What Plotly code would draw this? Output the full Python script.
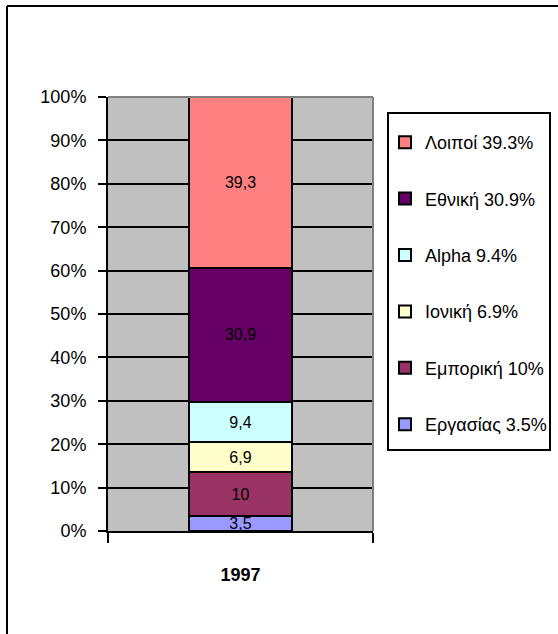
import plotly.graph_objects as go

categories = ["1997"]
series_names = ["Εργασίας 3.5%", "Εμπορική 10%", "Ιονική 6.9%", "Alpha 9.4%", "Εθνική 30.9%", "Λοιποί 39.3%"]
series_values = [3.5, 10, 6.9, 9.4, 30.9, 39.3]
bar_labels = ["3,5", "10", "6,9", "9,4", "30,9", "39,3"]
series_colors = ["#9999FF", "#993366", "#FFFFCC", "#CCFFFF", "#660066", "#FF8080"]
y_tick_values = [0, 10, 20, 30, 40, 50, 60, 70, 80, 90, 100]
y_tick_labels = [f"{v}%" for v in y_tick_values]

FONT = "Liberation Sans, Arial, sans-serif"

fig = go.Figure()
for i, (name, val, lab, col) in enumerate(zip(series_names, series_values, bar_labels, series_colors)):
    fig.add_trace(go.Bar(
        x=categories, y=[val], name=name, legendgroup=name, legendrank=1000 - i,
        marker=dict(color=col, line=dict(color="black", width=2)),
        text=[lab], textposition="inside", insidetextanchor="middle",
        textfont=dict(color="black", size=16, family=FONT),
        width=0.39, hoverinfo="skip",
    ))

W, H = 558, 634
L, R, T, B = 108, 185, 97, 103
pw, ph = W - L - R, H - T - B

def px_x(x):
    return (x - L) / pw

def px_y(y):
    return (H - B - y) / ph

fig.update_layout(
    width=W, height=H,
    margin=dict(l=L, r=R, t=T, b=B, autoexpand=False),
    barmode="stack",
    paper_bgcolor="white",
    plot_bgcolor="#C0C0C0",
    font=dict(family=FONT, size=18, color="black"),
    uniformtext=dict(minsize=16, mode="show"),
    showlegend=True,
    legend=dict(
        x=px_x(385), y=px_y(124), xanchor="left", yanchor="top",
        traceorder="grouped", tracegroupgap=30,
        font=dict(family=FONT, size=18, color="black"),
        bgcolor="rgba(0,0,0,0)", borderwidth=0,
    ),
    xaxis=dict(
        type="category", range=[-0.5, 0.5],
        showline=True, linecolor="black", linewidth=2,
        ticks="outside", ticklen=10, tickwidth=2, tickcolor="black",
        tickson="boundaries", showgrid=False,
        tickfont=dict(family=FONT, size=18, color="black", weight="bold"),
        ticklabelstandoff=26,
    ),
    yaxis=dict(
        range=[0, 100], tickmode="array", tickvals=y_tick_values, ticktext=y_tick_labels,
        showline=True, linecolor="black", linewidth=2,
        ticks="outside", ticklen=8, tickwidth=2, tickcolor="black",
        showgrid=True, gridcolor="black", gridwidth=2, zeroline=False,
        tickfont=dict(family=FONT, size=18, color="black"),
        ticklabelstandoff=8,
    ),
    shapes=[
        dict(type="line", xref="paper", yref="paper", x0=0, x1=1, y0=1, y1=1,
             line=dict(color="#808080", width=2)),
        dict(type="line", xref="paper", yref="paper", x0=1, x1=1, y0=0, y1=1,
             line=dict(color="#808080", width=2)),
        dict(type="rect", xref="paper", yref="paper",
             x0=px_x(388), x1=px_x(550), y0=px_y(450), y1=px_y(113),
             line=dict(color="black", width=2)),
        dict(type="line", xref="paper", yref="paper",
             x0=px_x(7), x1=px_x(560), y0=px_y(6), y1=px_y(6),
             line=dict(color="black", width=2)),
        dict(type="line", xref="paper", yref="paper",
             x0=px_x(7), x1=px_x(7), y0=px_y(6), y1=px_y(640),
             line=dict(color="black", width=2)),
    ],
)

fig.write_html(
    "out.html",
    config={"displayModeBar": False},
    post_script="document.body.style.margin='0';document.body.style.overflow='hidden';",
)
